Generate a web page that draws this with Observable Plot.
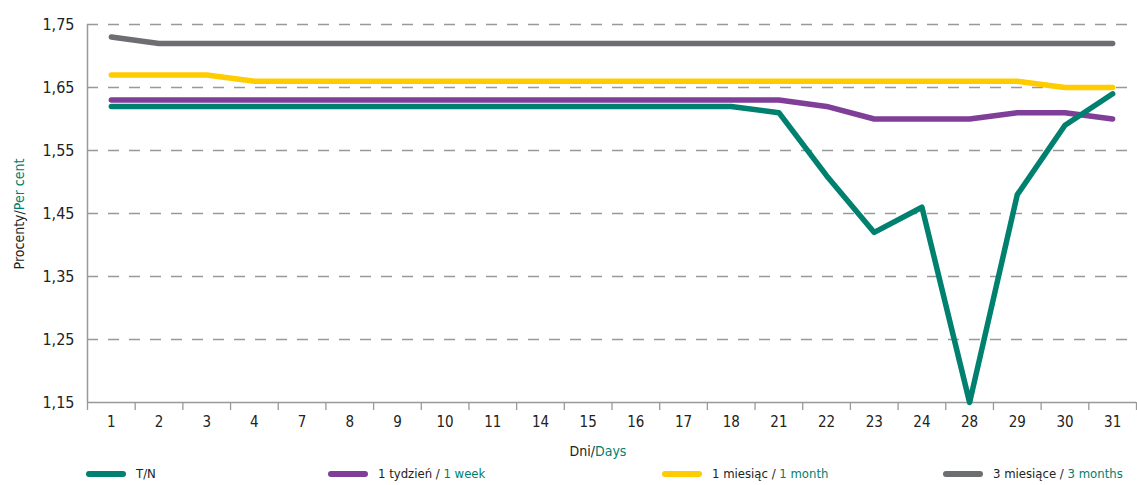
<!DOCTYPE html>
<html>
<head>
<meta charset="utf-8">
<script src="https://cdn.jsdelivr.net/npm/d3@7"></script>
<script src="https://cdn.jsdelivr.net/npm/@observablehq/plot@0.6"></script>
<style>
  html, body { margin: 0; padding: 0; background: #fff; }
  body { width: 1137px; height: 485px; overflow: hidden; font-family: "Liberation Sans Narrow", "DejaVu Sans Condensed", "Arial Narrow", sans-serif; }
  #chart { position: relative; width: 1137px; }
  #legend { position: relative; width: 1137px; height: 23px; font-size: 13px; color: #222; }
  .item { position: absolute; top: 0; height: 23px; display: flex; align-items: center; }
  .swatch { width: 40px; height: 6px; border-radius: 3px; margin-right: 10px; }
  .en { color: #00806f; }
</style>
</head>
<body>
<div id="chart"></div>
<div id="legend"></div>
<script>
const days = ["1","2","3","4","7","8","9","10","11","14","15","16","17","18","21","22","23","24","28","29","30","31"];
const tn     = [1.62,1.62,1.62,1.62,1.62,1.62,1.62,1.62,1.62,1.62,1.62,1.62,1.62,1.62,1.61,1.51,1.42,1.46,1.15,1.48,1.59,1.64];
const week1  = [1.63,1.63,1.63,1.63,1.63,1.63,1.63,1.63,1.63,1.63,1.63,1.63,1.63,1.63,1.63,1.62,1.60,1.60,1.60,1.61,1.61,1.60];
const month1 = [1.67,1.67,1.67,1.66,1.66,1.66,1.66,1.66,1.66,1.66,1.66,1.66,1.66,1.66,1.66,1.66,1.66,1.66,1.66,1.66,1.65,1.65];
const month3 = [1.73,1.72,1.72,1.72,1.72,1.72,1.72,1.72,1.72,1.72,1.72,1.72,1.72,1.72,1.72,1.72,1.72,1.72,1.72,1.72,1.72,1.72];
const yTicks = [1.15,1.25,1.35,1.45,1.55,1.65,1.75];

const seriesNames = ["3 miesiące", "1 miesiąc", "1 tydzień", "T/N"];
const seriesEn    = ["3 months", "1 month", "1 week", ""];
const seriesColors = ["#6d6e71", "#ffcc00", "#7f3f98", "#00806f"];
const seriesValues = [month3, month1, week1, tn];

const rows = [];
seriesValues.forEach((vals, s) => vals.forEach((v, i) => rows.push({series: seriesNames[s], i, v})));

const boundaries = d3.range(days.length + 1).map(k => k - 0.5);
const fmt = d => d3.format(".2f")(d).replace(".", ",");
const font = '"Liberation Sans Narrow", "DejaVu Sans Condensed", "Arial Narrow", sans-serif';

const plot = Plot.plot({
  width: 1137,
  height: 462,
  marginLeft: 87,
  marginRight: 1,
  marginTop: 24,
  marginBottom: 60,
  style: {fontFamily: font, fontSize: "15px", color: "#222", background: "#fff"},
  x: {type: "linear", domain: [-0.5, days.length - 0.5]},
  y: {domain: [1.15, 1.75]},
  color: {domain: seriesNames, range: seriesColors},
  marks: [
    Plot.ruleY(yTicks.slice(1), {stroke: "#999", strokeWidth: 1.3, strokeDasharray: "11,10"}),
    Plot.axisY({ticks: yTicks, tickSize: 0, tickPadding: 13, tickFormat: fmt, label: null, fontSize: 16}),
    Plot.axisX({ticks: d3.range(days.length), tickSize: 0, tickPadding: 14, tickFormat: i => days[i], label: null, fontSize: 15}),
    Plot.axisX({ticks: boundaries, tickSize: 8, tickFormat: () => "", label: null, stroke: "#999", strokeWidth: 1.3}),
    Plot.ruleY([1.15], {stroke: "#999", strokeWidth: 1.5}),
    Plot.ruleX([-0.5], {stroke: "#999", strokeWidth: 1.5}),
    Plot.lineY(rows, {x: "i", y: "v", z: "series", stroke: "series", strokeWidth: 5.5, strokeLinecap: "round", strokeLinejoin: "round"})
  ]
});
document.getElementById("chart").appendChild(plot);

const svg = d3.select(plot);
// y label
const yl = svg.append("text")
  .attr("transform", "translate(24,214) rotate(-90)")
  .attr("text-anchor", "middle")
  .style("font-family", font).style("font-size", "14px").attr("fill", "#222");
yl.append("tspan").text("Procenty/");
yl.append("tspan").attr("fill", "#00806f").text("Per cent");
// x label
const xl = svg.append("text")
  .attr("x", 598).attr("y", 456)
  .attr("text-anchor", "middle")
  .style("font-family", font).style("font-size", "14px").attr("fill", "#222");
xl.append("tspan").text("Dni/");
xl.append("tspan").attr("fill", "#00806f").text("Days");

// legend
const legendOrder = [3, 2, 1, 0];
const legendLeft = [86, 328, 662, 943];
const legend = d3.select("#legend");
legendOrder.forEach((s, k) => {
  const it = legend.append("div").attr("class", "item").style("left", legendLeft[k] + "px");
  it.append("div").attr("class", "swatch").style("background", seriesColors[s]);
  const t = it.append("span");
  if (seriesEn[s]) {
    t.append("span").text(seriesNames[s] + " / ");
    t.append("span").attr("class", "en").text(seriesEn[s]);
  } else {
    t.text(seriesNames[s]);
  }
});
</script>
</body>
</html>
